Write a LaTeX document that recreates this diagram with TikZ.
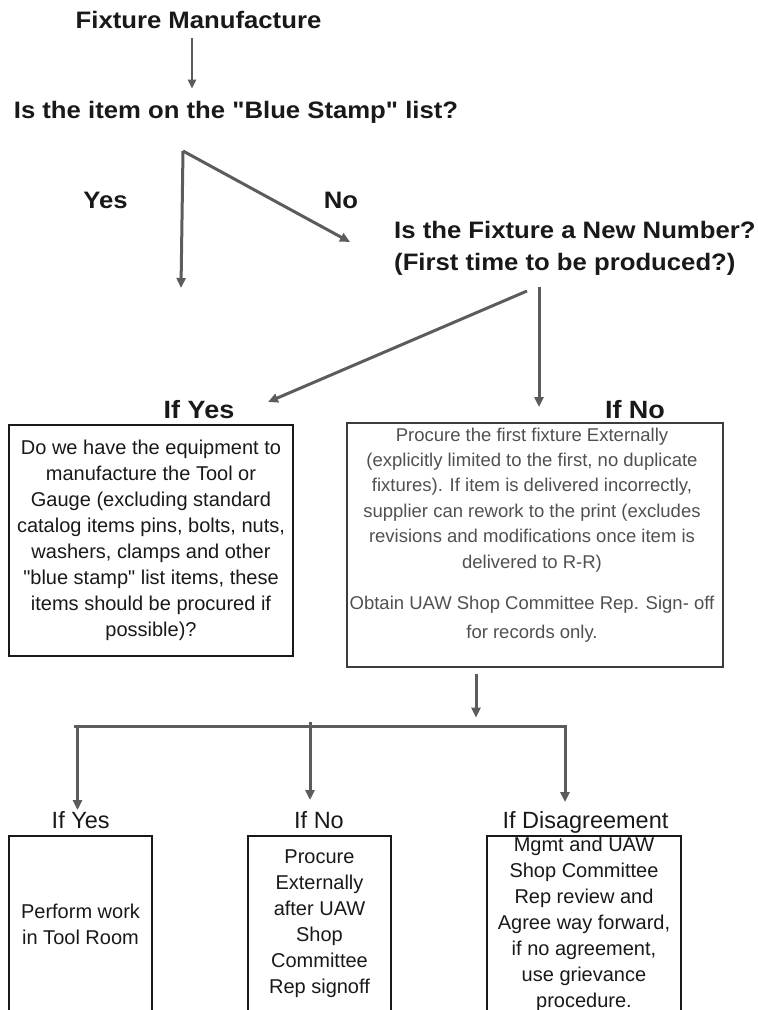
\documentclass[tikz,border=0pt]{standalone}
\usepackage{fontspec}
\setmainfont{Liberation Sans}
% families without the TeX quote mapping, so " stays straight
\newfontfamily\plainfont{Liberation Sans}
\newfontfamily\headfont[FakeStretch=1.08]{Liberation Sans}
\usetikzlibrary{arrows.meta}

\definecolor{flowgray}{RGB}{92,92,92}
\definecolor{notegray}{RGB}{80,80,80}
\definecolor{inkblack}{RGB}{25,25,25}

\tikzset{
  flow/.style={draw=flowgray, line width=3pt},
  arr/.style={flow, -{Triangle[length=10pt,width=9pt]}},
  thinarr/.style={draw=flowgray, line width=2.2pt, -{Triangle[length=9pt,width=8pt]}},
  headtxt/.style={inner sep=0pt, anchor=base, text=inkblack,
    font=\headfont\bfseries\fontsize{23.8}{28}\selectfont},
  branchtxt/.style={inner sep=0pt, anchor=base, text=inkblack,
    font=\headfont\bfseries\fontsize{25}{30}\selectfont},
  casetxt/.style={inner sep=0pt, anchor=base, text=inkblack,
    font=\plainfont\fontsize{23.5}{28}\selectfont},
  box/.style={draw=inkblack, line width=1.4pt, inner sep=0pt, align=center,
    text=inkblack},
  boxtxt/.style={font=\plainfont\fontsize{20}{26}\selectfont},
}

\begin{document}
\begin{tikzpicture}[x=1pt, y=-1pt]
\useasboundingbox (0,0) rectangle (758,1010);
\clip (0,0) rectangle (758,1010);

% ---- top decision chain ----
\node[headtxt] (fm) at (198.5,28) {Fixture Manufacture};
\node[headtxt] (q1) at (236,118) {Is the item on the "Blue Stamp" list?};
\draw[thinarr] ([xshift=-6.5pt,yshift=-10pt]fm.south) -- ([xshift=-44pt,yshift=12pt]q1.north);

\node[headtxt] (yes1) at (105.5,208) {Yes};
\node[headtxt] (no1) at (341,208) {No};

\node[headtxt, anchor=base west] (q2) at (394,238) {Is the Fixture a New Number?};
\node[headtxt, anchor=base west] (q2b) at (394,270) {(First time to be produced?)};

\coordinate (split1) at (183,151);
\coordinate (yesEnd) at (181,288);
\coordinate (noEnd) at (350,242);
\draw[arr] (split1) -- (yesEnd);
\draw[arr] (split1) -- (noEnd);

% ---- new number? ----
\coordinate (diagStart) at (527,291);
\coordinate (ifYesEnd) at (268,402);
\coordinate (vertStart) at (539,287);
\coordinate (ifNoEnd) at (539,407);
\draw[arr] (diagStart) -- (ifYesEnd);
\draw[arr] (vertStart) -- (ifNoEnd);

\node[branchtxt] (ifyes) at (199,418) {If Yes};
\node[branchtxt] (ifno) at (635,418) {If No};

% ---- equipment question ----
\node[box, boxtxt, minimum width=284pt, minimum height=231pt] (equip) at (151,540.5)
  {Do we have the equipment to\\
   manufacture the Tool or\\
   Gauge (excluding standard\\
   catalog items pins, bolts, nuts,\\
   washers, clamps and other\\
   "blue stamp" list items, these\\
   items should be procured if\\
   possible)?};

% ---- external procurement ----
\node[box, draw=inkblack!85, line width=1.2pt, minimum width=376pt, minimum height=244pt] (procure) at (535,545) {};
\node[inner sep=0pt, anchor=north, align=center, text=notegray,
      font=\plainfont\fontsize{18.5}{25.4}\selectfont] (procuretxt) at (532,427.5)
  {Procure the first fixture Externally\\
   (explicitly limited to the first, no duplicate\\
   fixtures). If item is delivered incorrectly,\\
   supplier can rework to the print (excludes\\
   revisions and modifications once item is\\
   delivered to R-R)\\[15.6pt]
   Obtain UAW Shop Committee Rep. Sign- off\\[3.6pt]
   for records only.};

\draw[arr] ([xshift=-59pt,yshift=-6pt]procure.south) -- ++(0,44);

% ---- three-way split ----
\coordinate (barL) at (74,726);
\coordinate (barR) at (566,726);
\draw[flow] (barL) -- (barR);
\draw[arr] (77.5,724.5) -- (77.5,810);
\draw[arr] (310,722) -- (310,800);
\draw[arr] (565,724.5) -- (565,802);

\node[casetxt] (cyes) at (80.7,828) {If Yes};
\node[casetxt] (cno) at (319,828) {If No};
\node[casetxt] (cdis) at (585.5,828) {If Disagreement};

\node[box, boxtxt, minimum width=143pt, minimum height=176pt] (toolroom) at (80.5,924)
  {Perform work\\ in Tool Room};
\node[box, boxtxt, minimum width=143pt, minimum height=176pt] (external) at (319.5,924)
  {Procure\\ Externally\\ after UAW\\ Shop\\ Committee\\ Rep signoff};
\node[box, boxtxt, minimum width=194pt, minimum height=176pt] (review) at (584,924)
  {Mgmt and UAW\\ Shop Committee\\ Rep review and\\ Agree way forward,\\ if no agreement,\\ use grievance\\ procedure.};
\end{tikzpicture}
\end{document}
